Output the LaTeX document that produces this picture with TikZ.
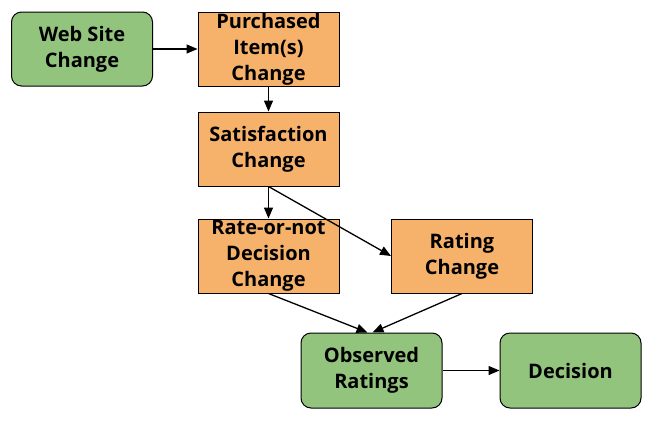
\documentclass[tikz,border=0pt]{standalone}
\usepackage{fontspec}
\setmainfont{Open Sans}[BoldFont={* Bold}]
\usetikzlibrary{arrows.meta}
\definecolor{gfill}{HTML}{93C47D}
\definecolor{ofill}{HTML}{F6B26B}
\begin{document}
\begin{tikzpicture}[x=1pt,y=-1pt,
  box/.style={draw=black,line width=1pt,minimum width=141pt,minimum height=74pt,align=center,inner sep=0pt,
    font=\fontsize{20}{26}\selectfont\bfseries},
  gbox/.style={box,fill=gfill,rounded corners=10pt},
  obox/.style={box,fill=ofill},
  conn/.style={line width=1.3pt,-{Triangle[length=11pt,width=9pt]}}]
\useasboundingbox (0,0) rectangle (656,421);
\node[gbox] (web) at (82,49) {Web Site\\Change};
\node[obox] (purch) at (268.5,49) {Purchased\\Item(s)\\Change};
\node[obox] (sat) at (268.5,149) {Satisfaction\\Change};
\node[obox] (rate) at (268.5,256) {Rate-or-not\\Decision\\Change};
\node[obox] (rating) at (462,256) {Rating\\Change};
\node[gbox,minimum height=75pt] (obs) at (371.5,370.5) {Observed\\Ratings};
\node[gbox,minimum height=75pt] (dec) at (570.5,370.5) {Decision};
\draw[conn] (web) -- (purch);
\draw[conn] (purch) -- (sat);
\draw[conn] (sat.south) -- (rate.north);
\draw[conn] (sat.south) -- (rating.west);
\draw[conn] (rate.south) -- ([xshift=-4pt]obs.north);
\draw[conn] (rating.south) -- ([xshift=1pt]obs.north);
\draw[conn] (obs) -- (dec);
\end{tikzpicture}
\end{document}
